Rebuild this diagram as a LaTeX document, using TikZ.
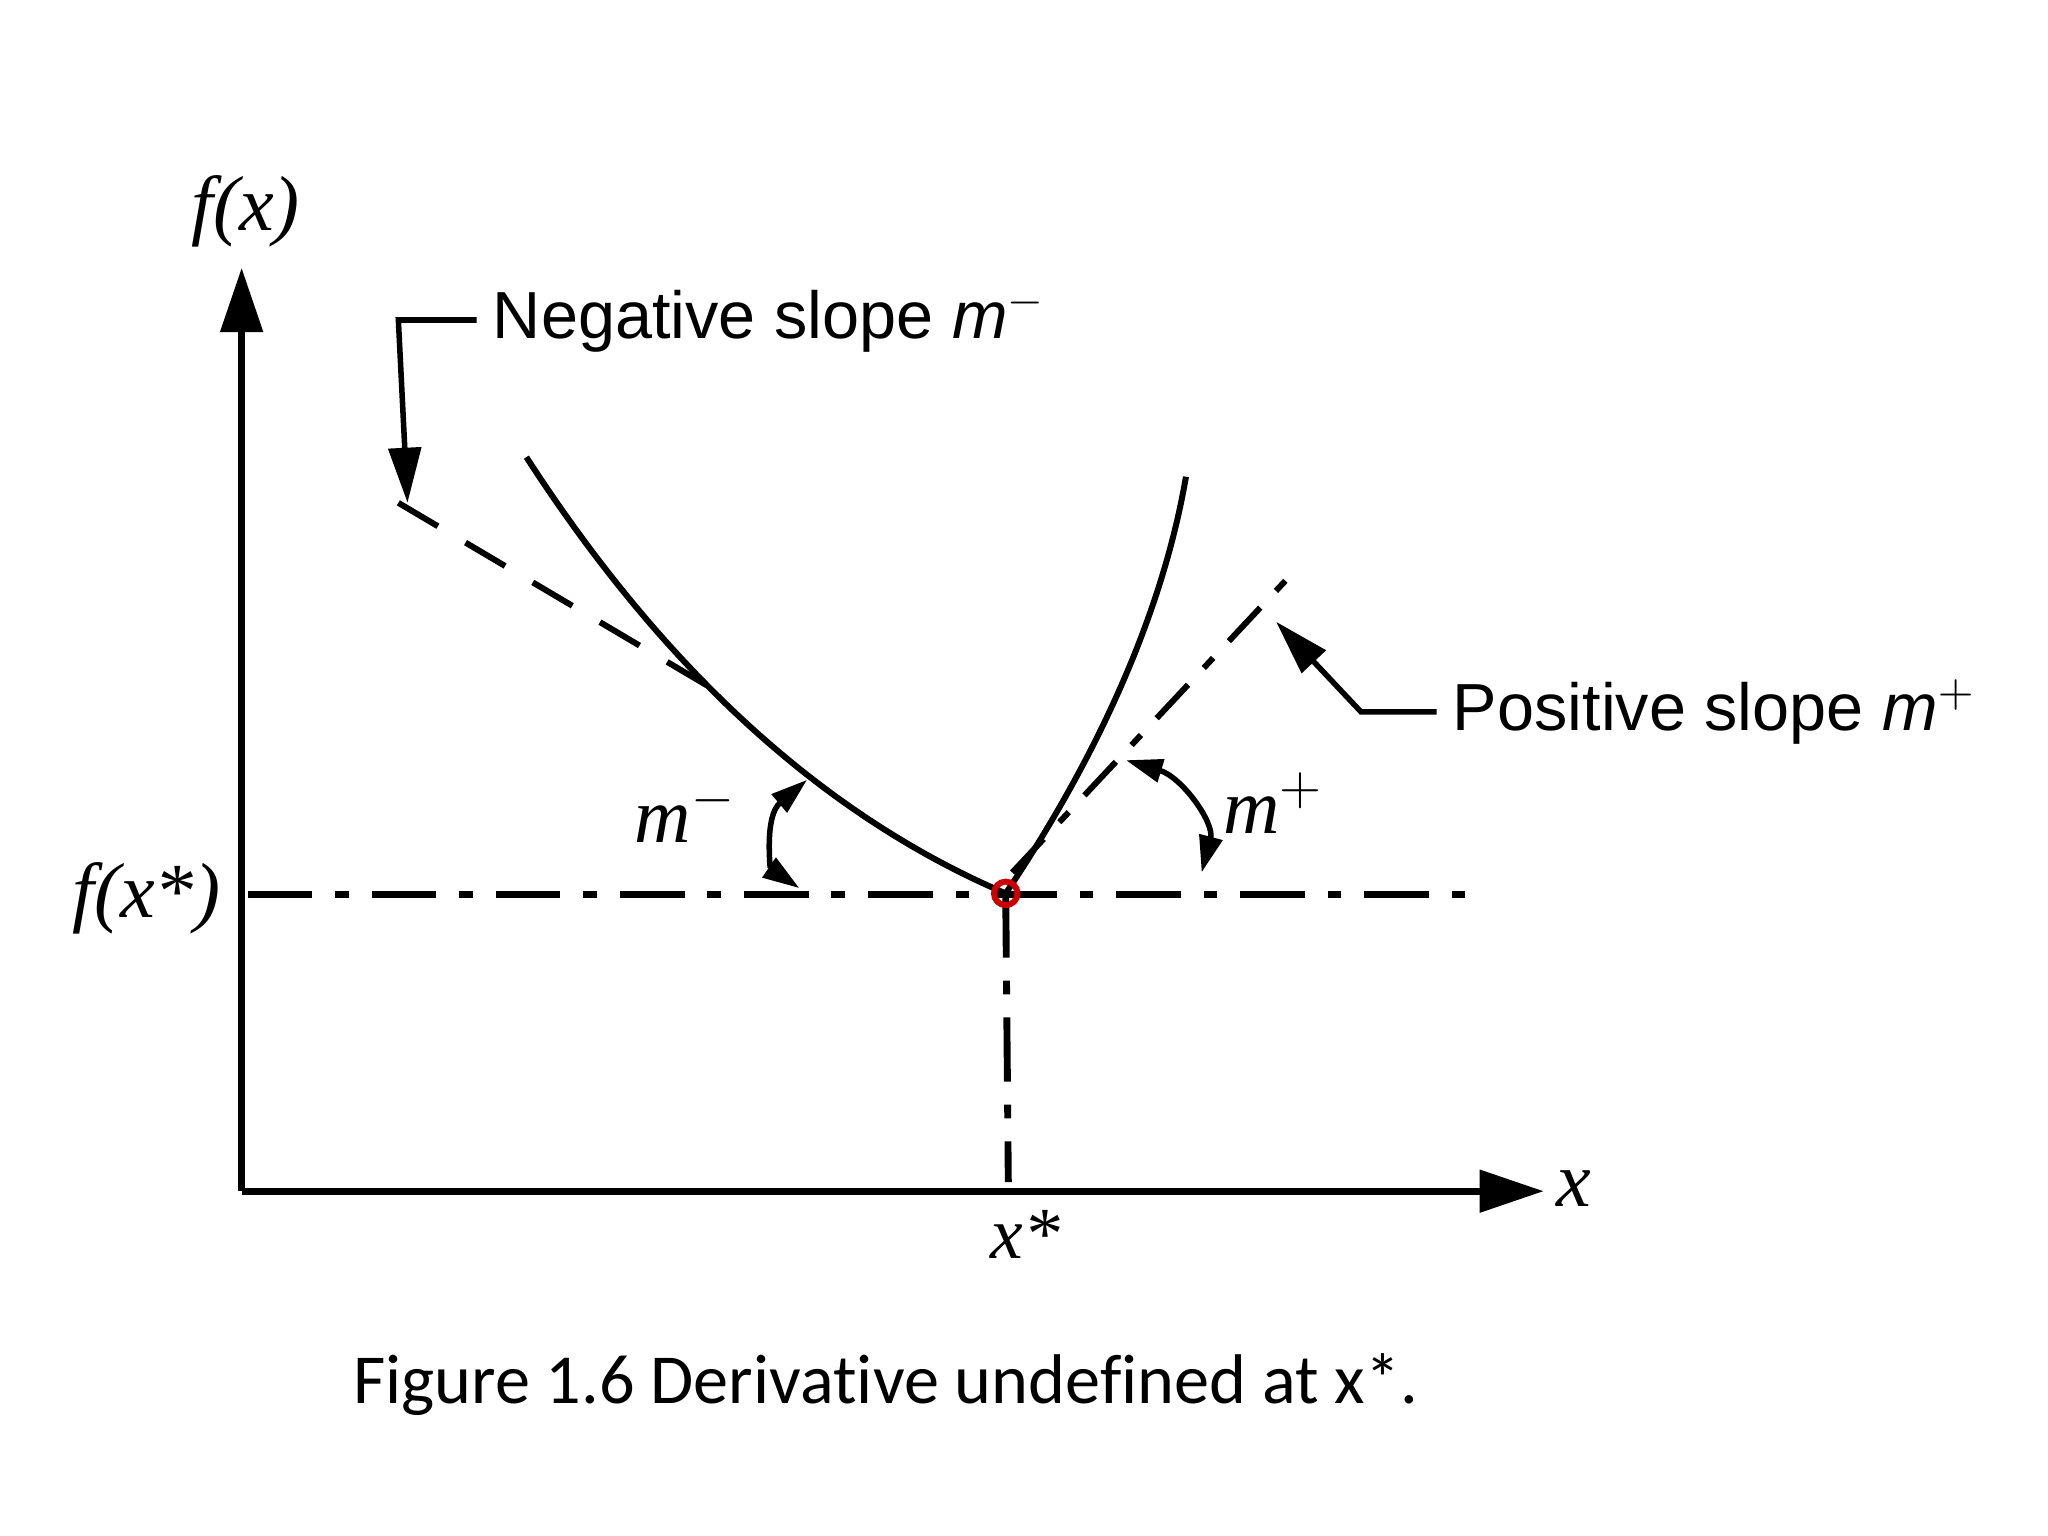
\documentclass[tikz,border=0pt]{standalone}
\usepackage{fontspec}
\setmainfont{Liberation Serif}
\newfontfamily\labfont{Liberation Sans}
\newfontfamily\capfont[Ligatures=NoCommon]{Carlito}
\usetikzlibrary{arrows.meta}
\begin{document}
\begin{tikzpicture}[x=0.01cm,y=-0.01cm,
  ax/.style={line width=1.6pt,-{Triangle[length=14pt,width=9pt]}},
  dd/.style={line width=1.5pt,dash pattern=on 14pt off 5pt on 3pt off 5pt},
  call/.style={line width=1.2pt,-{Triangle[length=12pt,width=7pt]}},
  arc/.style={line width=1.2pt,{Triangle[length=8pt,width=5pt]}-{Triangle[length=8pt,width=5pt]}}]
\useasboundingbox (0,0) rectangle (1568,1176);
\coordinate (O) at (185,912);
\coordinate (P) at (770,684);
\draw[ax] (O) -- (185,205);
\draw[ax] (O) -- (1182,912);
\node (fx) at (188,162) {\itshape\fontsize{17}{20}\selectfont f(x)};
\node (xl) at (1205,910) {\itshape\fontsize{17}{20}\selectfont x};
\node (fxs) at (112,688) {\itshape\fontsize{17}{20}\selectfont f(x*)};
\node (xs) at (785,945) {\itshape\fontsize{16}{20}\selectfont x*};
\draw[dd] (190,685) -- (1130,685);
\draw[dd] (P) -- (772,905);
\draw[line width=1.3pt] (403,350) .. controls (500,500) and (620,620) .. (P);
\draw[line width=1.3pt] (P) .. controls (840,580) and (890,470) .. (908,365);
\draw[line width=1.3pt,dash pattern=on 10pt off 7pt] (305,385) -- (545,527);
\draw[line width=1.3pt,dash pattern=on 10pt off 5pt on 3pt off 5pt] (775,668) -- (996,432);
\node[anchor=west] (neg) at (365,245) {\labfont\fontsize{14.5}{16}\selectfont Negative slope \itshape m$^{-}$};
\node[anchor=west] (pos) at (1100,545) {\labfont\fontsize{14.5}{16}\selectfont Positive slope \itshape m$^{+}$};
\draw[call] (neg.west) -- (305,245) -- (312,385);
\draw[call] (pos.west) -- (1042,545) -- (977,476);
\node (mm) at (525,622) {\itshape\fontsize{17}{20}\selectfont m$^{-}$};
\node (mp) at (975,615) {\itshape\fontsize{17}{20}\selectfont m$^{+}$};
\draw[arc] (618,597) .. controls (585,625) and (590,665) .. (612,680);
\draw[arc] (862,582) .. controls (905,595) and (930,630) .. (920,668);
\draw[red!80!black,line width=1.3pt] (P) circle (9);
\node (cap) at (678,1060) {\capfont\fontsize{15.3}{20}\selectfont Figure 1.6 Derivative undefined at x*.};
\end{tikzpicture}
\end{document}
